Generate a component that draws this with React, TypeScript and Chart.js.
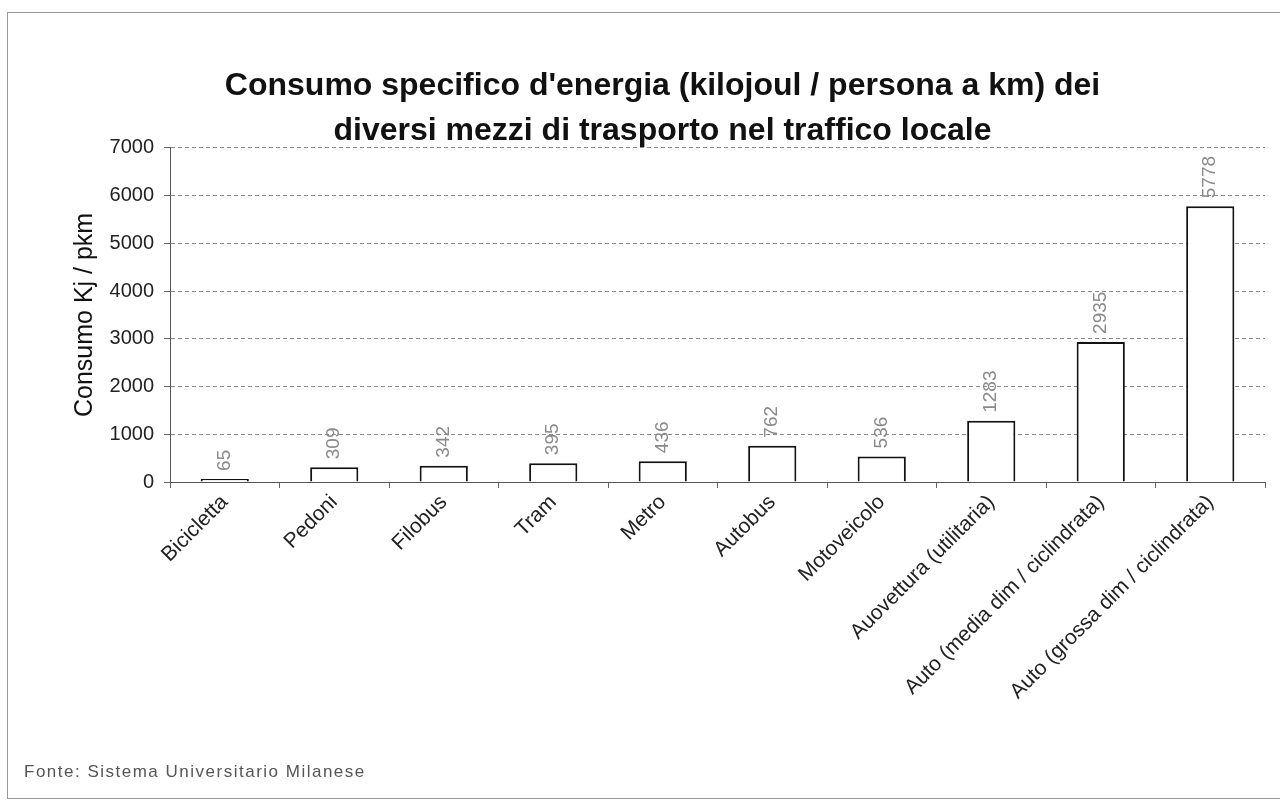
import React, { useEffect, useRef } from "react";
import { Chart, registerables } from "chart.js";

Chart.register(...registerables);

const categories: string[] = [
  "Bicicletta",
  "Pedoni",
  "Filobus",
  "Tram",
  "Metro",
  "Autobus",
  "Motoveicolo",
  "Auovettura (utilitaria)",
  "Auto (media dim / ciclindrata)",
  "Auto (grossa dim / ciclindrata)",
];
const consumo: number[] = [65, 309, 342, 395, 436, 762, 536, 1283, 2935, 5778];
const titleLines: string[] = [
  "Consumo specifico d'energia (kilojoul / persona a km) dei",
  "diversi mezzi di trasporto nel traffico locale",
];
const yTitle = "Consumo Kj / pkm";
const fonte = "Fonte: Sistema Universitario Milanese";

const FONT = "'Liberation Sans', Arial, sans-serif";

const valueLabels = {
  id: "valueLabels",
  afterDatasetsDraw(chart: any) {
    const ctx = chart.ctx;
    const meta = chart.getDatasetMeta(0);
    ctx.save();
    ctx.fillStyle = "#8a8a8a";
    ctx.font = `19px ${FONT}`;
    ctx.textAlign = "left";
    ctx.textBaseline = "middle";
    meta.data.forEach((bar: any, i: number) => {
      ctx.save();
      ctx.translate(bar.x, bar.y - 8);
      ctx.rotate(-Math.PI / 2);
      ctx.fillText(String(consumo[i]), 0, 0);
      ctx.restore();
    });
    ctx.restore();
  },
};

export default function App() {
  const ref = useRef<HTMLCanvasElement | null>(null);
  useEffect(() => {
    if (!ref.current) return;
    const chart = new Chart(ref.current, {
      type: "bar",
      data: {
        labels: categories,
        datasets: [
          {
            data: consumo,
            backgroundColor: "#ffffff",
            borderColor: "#111111",
            borderWidth: 2,
            barPercentage: 0.44,
            categoryPercentage: 1,
          },
        ],
      },
      options: {
        animation: false,
        responsive: false,
        maintainAspectRatio: false,
        layout: { padding: { left: 60, right: 15, top: 0, bottom: 0 } },
        plugins: {
          legend: { display: false },
          tooltip: { enabled: false },
          title: {
            display: true,
            text: titleLines,
            color: "#111",
            font: { family: FONT, size: 32, weight: "bold", lineHeight: 1.42 },
            padding: { top: 63, bottom: -6 },
          },
        },
        scales: {
          x: {
            grid: {
              display: true,
              drawOnChartArea: false,
              drawTicks: true,
              tickLength: 6,
              color: "#666",
            },
            border: { display: true, color: "#555", width: 1 },
            ticks: {
              color: "#222",
              font: { family: FONT, size: 21 },
              minRotation: 45,
              maxRotation: 45,
              autoSkip: false,
              padding: 2,
            },
            afterFit(scale: any) {
              scale.height = 328;
            },
          },
          y: {
            min: 0,
            max: 7000,
            ticks: {
              stepSize: 1000,
              color: "#222",
              font: { family: FONT, size: 20 },
              padding: 10,
              callback: (v: any) => String(v),
            },
            grid: {
              color: "#8a8a8a",
              tickLength: 6,
              tickColor: "#666",
            },
            border: { display: true, color: "#555", width: 1, dash: [4, 3] },
            title: {
              display: true,
              text: yTitle,
              color: "#111",
              font: { family: FONT, size: 25 },
              padding: { top: 10, bottom: 0 },
            },
            afterFit(scale: any) {
              scale.width = 110;
            },
          },
        },
      },
      plugins: [valueLabels],
    } as any);
    return () => chart.destroy();
  }, []);

  return (
    <div
      style={{
        position: "fixed",
        left: 0,
        top: 0,
        width: 1280,
        height: 810,
        background: "#fff",
        overflow: "hidden",
      }}
    >
      <div
        style={{
          position: "absolute",
          left: 7,
          top: 12,
          width: 1280,
          height: 787,
          border: "1px solid #999",
          boxSizing: "border-box",
        }}
      />
      <canvas ref={ref} width={1280} height={810} style={{ position: "absolute", left: 0, top: 0, width: 1280, height: 810 }} />
      <div
        style={{
          position: "absolute",
          left: 24,
          top: 762,
          fontFamily: FONT,
          fontSize: 17,
          letterSpacing: "1.5px",
          color: "#555",
        }}
      >
        {fonte}
      </div>
    </div>
  );
}
